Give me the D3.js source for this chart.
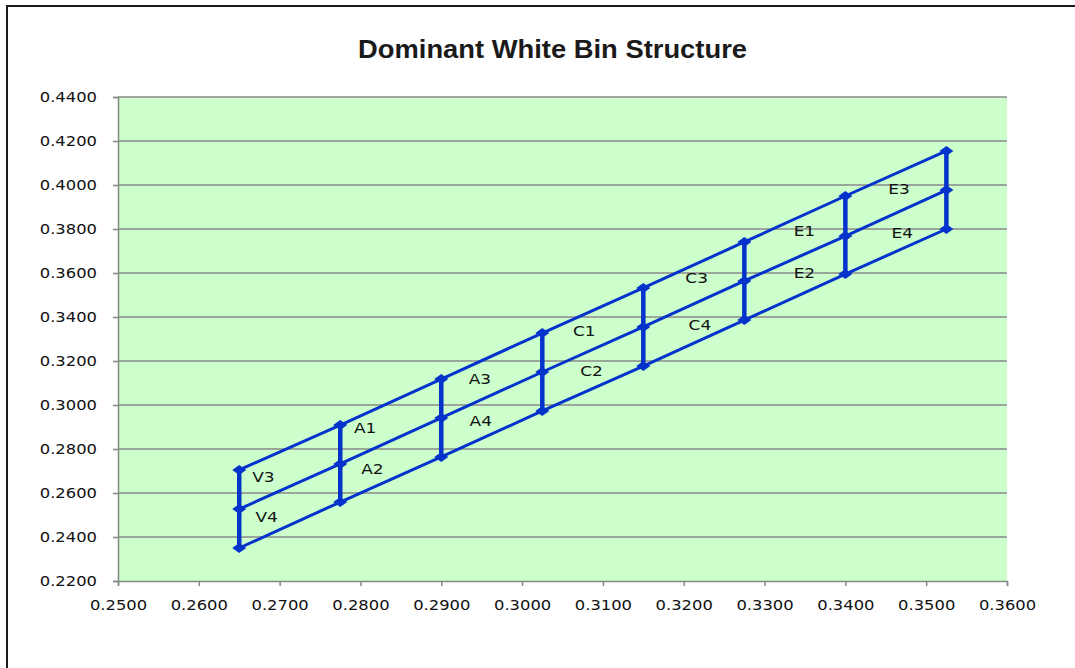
<!DOCTYPE html>
<html>
<head>
<meta charset="utf-8">
<script src="https://cdn.jsdelivr.net/npm/d3@7"></script>
<style>
  body { margin: 0; background: #fff; }
  svg { display: block; }
</style>
</head>
<body>
<div id="chart"></div>
<script>
// bin corner x positions (shared by all three lines)
const xValues = [0.265, 0.2775, 0.29, 0.3025, 0.315, 0.3275, 0.34, 0.3525];
// upper, middle and lower boundary lines
const upperY = [0.2705, 0.2909, 0.3118, 0.3327, 0.3532, 0.3741, 0.3950, 0.4155];
const middleY = [0.2527, 0.2732, 0.2941, 0.3150, 0.3355, 0.3564, 0.3768, 0.3977];
const lowerY = [0.2350, 0.2559, 0.2764, 0.2973, 0.3177, 0.3386, 0.3595, 0.3800];

const binNames = ["V3", "V4", "A1", "A2", "A3", "A4", "C1", "C2", "C3", "C4", "E1", "E2", "E3", "E4"];
const binLabelX = [0.2666, 0.2670, 0.2792, 0.2801, 0.2934, 0.2935, 0.3063, 0.3072, 0.3202, 0.3206, 0.3336, 0.3336, 0.3453, 0.3457];
const binLabelY = [0.2673, 0.2491, 0.2896, 0.2710, 0.3119, 0.2928, 0.3337, 0.3155, 0.3578, 0.3364, 0.3791, 0.3600, 0.3982, 0.3782];

const xTicks = [0.25, 0.26, 0.27, 0.28, 0.29, 0.30, 0.31, 0.32, 0.33, 0.34, 0.35, 0.36];
const yTicks = [0.22, 0.24, 0.26, 0.28, 0.30, 0.32, 0.34, 0.36, 0.38, 0.40, 0.42, 0.44];

const width = 1075;
const height = 668;
const margin = { top: 97, right: 68, bottom: 87, left: 118 };
const plotW = width - margin.left - margin.right;
const plotH = height - margin.top - margin.bottom;
const blue = "#0433CC";
const stretch = "scale(1.17,1)"; // the original chart's text is drawn wide

const svg = d3.select("#chart").append("svg")
  .attr("width", width)
  .attr("height", height);

// outer chart frame
svg.append("rect")
  .attr("x", 7).attr("y", 6)
  .attr("width", width + 20).attr("height", height + 20)
  .attr("fill", "#fff").attr("stroke", "#1a1a1a").attr("stroke-width", 2);

svg.append("text")
  .attr("x", 358).attr("y", 58)
  .attr("textLength", 389)
  .attr("lengthAdjust", "spacingAndGlyphs")
  .attr("font-family", "Liberation Sans, Arial, sans-serif")
  .attr("font-weight", "bold")
  .attr("font-size", 26)
  .attr("fill", "#1a1a1a")
  .text("Dominant White Bin Structure");

const g = svg.append("g").attr("transform", `translate(${margin.left},${margin.top})`);

const x = d3.scaleLinear().domain([0.25, 0.36]).range([0, plotW]);
const y = d3.scaleLinear().domain([0.22, 0.44]).range([plotH, 0]);

g.append("rect")
  .attr("width", plotW).attr("height", plotH)
  .attr("fill", "#CCFFCC");

// horizontal gridlines
g.selectAll(".grid")
  .data(yTicks.slice(1))
  .enter().append("line")
  .attr("x1", 0).attr("x2", plotW)
  .attr("y1", d => y(d)).attr("y2", d => y(d))
  .attr("stroke", "#888").attr("stroke-width", 1.5);

const xAxis = g.append("g")
  .attr("transform", `translate(0,${plotH})`)
  .call(d3.axisBottom(x).tickValues(xTicks).tickFormat(d3.format(".4f")).tickSize(5).tickPadding(14));
const yAxis = g.append("g")
  .call(d3.axisLeft(y).tickValues(yTicks).tickFormat(d3.format(".4f")).tickSize(5).tickPadding(6));

[xAxis, yAxis].forEach(ax => {
  ax.select(".domain").attr("stroke", "#888").attr("stroke-width", 1.5);
  ax.selectAll(".tick line").attr("stroke", "#888").attr("stroke-width", 1.5);
  ax.selectAll("text")
    .attr("font-family", "DejaVu Sans, Verdana, sans-serif")
    .attr("font-size", 14)
    .attr("fill", "#111");
});
xAxis.selectAll("text").attr("transform", stretch);
yAxis.selectAll("text")
  .attr("x", 0)
  .attr("dy", "0.35em")
  .attr("transform", "translate(-21,0) " + stretch);

// slanted boundary lines
const lines = [upperY, middleY, lowerY];
const line = d3.line().x(d => x(d[0])).y(d => y(d[1]));

lines.forEach(ys => {
  g.append("path")
    .datum(xValues.map((v, i) => [v, ys[i]]))
    .attr("d", line)
    .attr("fill", "none")
    .attr("stroke", blue)
    .attr("stroke-width", 3);
});

// vertical bin separators
xValues.forEach((v, i) => {
  g.append("path")
    .datum([[v, upperY[i]], [v, middleY[i]], [v, lowerY[i]]])
    .attr("d", line)
    .attr("fill", "none")
    .attr("stroke", blue)
    .attr("stroke-width", 4.5);
});

// wide diamond markers
const diamond = "M-7,0L0,-5L7,0L0,5Z";
lines.forEach(ys => {
  g.selectAll(null)
    .data(xValues.map((v, i) => [v, ys[i]]))
    .enter().append("path")
    .attr("d", diamond)
    .attr("transform", d => `translate(${x(d[0])},${y(d[1])})`)
    .attr("fill", blue);
});

// bin labels
g.selectAll(".bin")
  .data(binNames)
  .enter().append("text")
  .attr("transform", (d, i) => `translate(${x(binLabelX[i])},${y(binLabelY[i])}) ${stretch}`)
  .attr("dy", "0.35em")
  .attr("font-family", "DejaVu Sans, Verdana, sans-serif")
  .attr("font-size", 14.5)
  .attr("fill", "#111")
  .text(d => d);
</script>
</body>
</html>
